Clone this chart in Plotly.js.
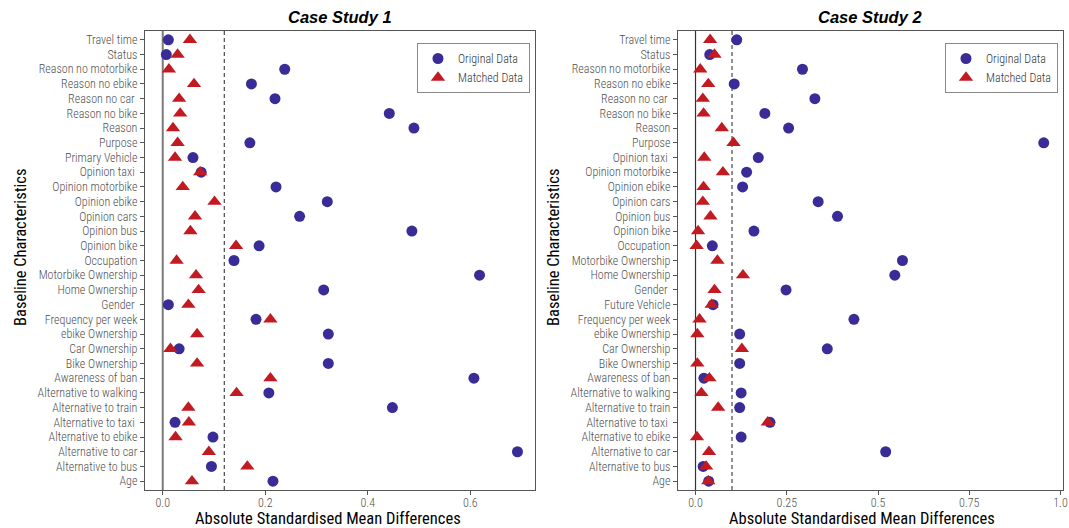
<!DOCTYPE html>
<html>
<head>
<meta charset="utf-8">
<script src="https://cdn.plot.ly/plotly-3.0.1.min.js"></script>
<style>
  html, body { margin: 0; padding: 0; background: #ffffff; }
  #chart { width: 1069px; height: 528px; }
</style>
</head>
<body>
<div id="chart"></div>
<script>
// ---------- Data ----------
var categories1 = ["Travel time","Status","Reason no motorbike","Reason no ebike","Reason no car\u00a0","Reason no bike","Reason","Purpose","Primary Vehicle","Opinion taxi\u00a0","Opinion motorbike","Opinion ebike","Opinion cars","Opinion bus","Opinion bike","Occupation","Motorbike Ownership","Home Ownership","Gender\u00a0","Frequency per week","ebike Ownership","Car Ownership","Bike Ownership","Awareness of ban","Alternative to walking","Alternative to train","Alternative to taxi\u00a0","Alternative to ebike","Alternative to car","Alternative to bus","Age"];
var original1 = [0.011,0.007,0.238,0.173,0.219,0.442,0.490,0.170,0.059,0.075,0.221,0.321,0.267,0.486,0.188,0.139,0.618,0.314,0.011,0.182,0.323,0.032,0.323,0.607,0.207,0.448,0.024,0.098,0.692,0.095,0.215];
var matched1  = [0.053,0.029,0.012,0.061,0.032,0.034,0.020,0.029,0.024,0.073,0.039,0.101,0.063,0.054,0.143,0.027,0.065,0.070,0.050,0.210,0.067,0.015,0.067,0.210,0.144,0.050,0.051,0.025,0.090,0.165,0.057];

var categories2 = ["Travel time","Status","Reason no motorbike","Reason no ebike","Reason no car\u00a0","Reason no bike","Reason","Purpose","Opinion taxi\u00a0","Opinion motorbike","Opinion ebike","Opinion cars","Opinion bus","Opinion bike","Occupation","Motorbike Ownership","Home Ownership","Gender\u00a0","Future Vehicle","Frequency per week","ebike Ownership","Car Ownership","Bike Ownership","Awareness of ban","Alternative to walking","Alternative to train","Alternative to taxi\u00a0","Alternative to ebike","Alternative to car","Alternative to bus","Age"];
var original2 = [0.113,0.039,0.293,0.106,0.327,0.190,0.255,0.954,0.172,0.140,0.129,0.336,0.389,0.160,0.046,0.567,0.546,0.248,0.048,0.434,0.121,0.361,0.121,0.023,0.125,0.121,0.204,0.125,0.521,0.021,0.036];
var matched2  = [0.040,0.052,0.013,0.035,0.020,0.022,0.072,0.104,0.024,0.075,0.022,0.020,0.041,0.007,0.003,0.060,0.130,0.052,0.044,0.011,0.005,0.127,0.005,0.038,0.016,0.062,0.198,0.004,0.037,0.029,0.035];

var xTickVals1 = [0, 0.2, 0.4, 0.6];
var xTickText1 = ["0.0", "0.2", "0.4", "0.6"];
var xTickVals2 = [0, 0.25, 0.5, 0.75, 1.0];
var xTickText2 = ["0.0", "0.25", "0.5", "0.75", "1.0"];

var threshold1 = 0.12;
var threshold2 = 0.1;

var panelTitles = ["Case Study 1", "Case Study 2"];
var seriesNames = ["Original Data", "Matched Data"];
var xTitle = "Absolute Standardised Mean Differences";
var yTitle = "Baseline Characteristics";

// ---------- Styling ----------
var W = 1069, H = 528;
var narrow = "Roboto Condensed, Liberation Sans Narrow, Roboto, sans-serif";
var colOrig = "#3a2c96";
var colMatch = "#c21a21";
var tickFont = {family: narrow, size: 12, color: "#505050", weight: 300};

function px2fx(p) { return p / W; }
function px2fy(p) { return 1 - p / H; }

var yDomain = [px2fy(490), px2fy(31)];

var traces = [
  {type: "scatter", mode: "markers", name: seriesNames[0], x: original1, y: categories1,
   xaxis: "x", yaxis: "y", legend: "legend",
   marker: {symbol: "circle", size: 11, color: colOrig, line: {width: 0}}},
  {type: "scatter", mode: "markers", name: seriesNames[1], x: matched1, y: categories1,
   xaxis: "x", yaxis: "y", legend: "legend",
   marker: {symbol: "triangle-up", size: 12.5, color: colMatch, line: {width: 0}}},
  {type: "scatter", mode: "markers", name: seriesNames[0], x: original2, y: categories2,
   xaxis: "x2", yaxis: "y2", legend: "legend2",
   marker: {symbol: "circle", size: 11, color: colOrig, line: {width: 0}}},
  {type: "scatter", mode: "markers", name: seriesNames[1], x: matched2, y: categories2,
   xaxis: "x2", yaxis: "y2", legend: "legend2",
   marker: {symbol: "triangle-up", size: 12.5, color: colMatch, line: {width: 0}}}
];

function xAxis(domain, range, vals, text, anchor) {
  return {
    domain: domain, range: range, anchor: anchor,
    tickmode: "array", tickvals: vals, ticktext: text,
    ticks: "outside", ticklen: 4, tickwidth: 1, tickcolor: "#555555",
    tickfont: tickFont,
    ticklabelstandoff: -3,
    showgrid: false, zeroline: false,
    showline: true, mirror: true, linecolor: "#555555", linewidth: 1.2,
    automargin: false, fixedrange: true
  };
}
function yAxis(cats, anchor) {
  return {
    domain: yDomain, anchor: anchor, type: "category",
    categoryorder: "array", categoryarray: cats,
    tickmode: "array", tickvals: cats, ticktext: cats,
    range: [cats.length - 0.4, -0.6],
    ticks: "outside", ticklen: 4, tickwidth: 1, tickcolor: "#555555",
    tickfont: tickFont,
    showgrid: false, zeroline: false,
    showline: true, mirror: true, linecolor: "#555555", linewidth: 1.2,
    automargin: false, fixedrange: true
  };
}

var titleFont = {family: "Liberation Sans, Arial, sans-serif", size: 16.5, color: "#000000", weight: "bold", style: "italic"};
var axTitleFont = {family: narrow, size: 16.5, color: "#000000"};

var layout = {
  width: W, height: H,
  margin: {l: 0, r: 0, t: 0, b: 0, pad: 0},
  paper_bgcolor: "#ffffff", plot_bgcolor: "#ffffff",
  showlegend: true,
  xaxis: xAxis([px2fx(145), px2fx(535)], [-0.0346, 0.7262], xTickVals1, xTickText1, "y"),
  yaxis: yAxis(categories1, "x"),
  xaxis2: xAxis([px2fx(678), px2fx(1062.7)], [-0.048, 1.006], xTickVals2, xTickText2, "y2"),
  yaxis2: yAxis(categories2, "x2"),
  legend: {
    x: px2fx(530), xanchor: "right", y: px2fy(43), yanchor: "top",
    bgcolor: "#ffffff", bordercolor: "#8a8a8a", borderwidth: 1,
    font: {family: narrow, size: 12, color: "#333333", weight: 300},
    itemwidth: 30, tracegroupgap: 0
  },
  legend2: {
    x: px2fx(1058), xanchor: "right", y: px2fy(43), yanchor: "top",
    bgcolor: "#ffffff", bordercolor: "#8a8a8a", borderwidth: 1,
    font: {family: narrow, size: 12, color: "#333333", weight: 300},
    itemwidth: 30, tracegroupgap: 0
  },
  shapes: [
    {type: "line", xref: "x", yref: "y domain", x0: 0, x1: 0, y0: 0, y1: 1,
     line: {color: "#7a7a7a", width: 2}, layer: "below"},
    {type: "line", xref: "x", yref: "y domain", x0: threshold1, x1: threshold1, y0: 0, y1: 1,
     line: {color: "#222222", width: 1, dash: "4px,3px"}, layer: "below"},
    {type: "line", xref: "x2", yref: "y2 domain", x0: 0, x1: 0, y0: 0, y1: 1,
     line: {color: "#333333", width: 1.2}, layer: "below"},
    {type: "line", xref: "x2", yref: "y2 domain", x0: threshold2, x1: threshold2, y0: 0, y1: 1,
     line: {color: "#222222", width: 1, dash: "4px,3px"}, layer: "below"}
  ],
  annotations: [
    {text: panelTitles[0], xref: "paper", yref: "paper", x: px2fx(340), y: px2fy(17),
     xanchor: "center", yanchor: "middle", showarrow: false, font: titleFont},
    {text: panelTitles[1], xref: "paper", yref: "paper", x: px2fx(870), y: px2fy(17),
     xanchor: "center", yanchor: "middle", showarrow: false, font: titleFont},
    {text: xTitle, xref: "paper", yref: "paper", x: px2fx(328), y: px2fy(518),
     xanchor: "center", yanchor: "middle", showarrow: false, font: axTitleFont},
    {text: xTitle, xref: "paper", yref: "paper", x: px2fx(862), y: px2fy(518),
     xanchor: "center", yanchor: "middle", showarrow: false, font: axTitleFont},
    {text: yTitle, xref: "paper", yref: "paper", x: px2fx(20), y: px2fy(248),
     xanchor: "center", yanchor: "middle", showarrow: false, textangle: -90, font: axTitleFont},
    {text: yTitle, xref: "paper", yref: "paper", x: px2fx(553), y: px2fy(248),
     xanchor: "center", yanchor: "middle", showarrow: false, textangle: -90, font: axTitleFont}
  ]
};

Plotly.newPlot("chart", traces, layout, {displayModeBar: false, staticPlot: true});
</script>
</body>
</html>
